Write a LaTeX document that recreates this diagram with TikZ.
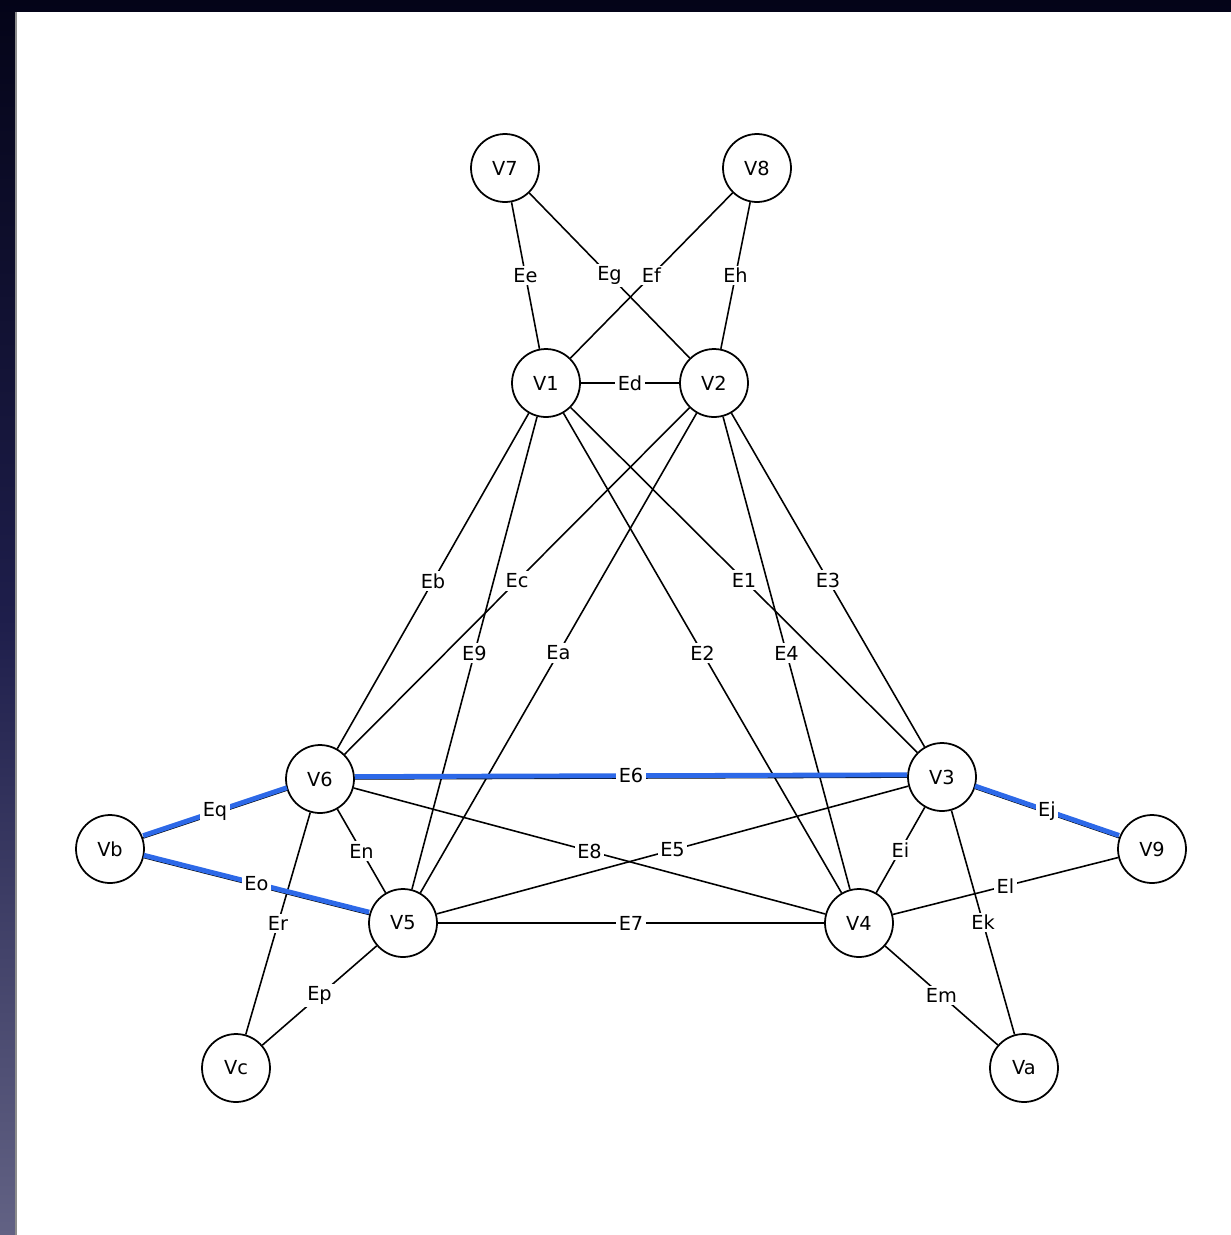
\documentclass[tikz,border=0pt]{standalone}
\usepackage{fontspec}
\setsansfont{DejaVu Sans}
\usetikzlibrary{positioning}
\definecolor{hlblue}{RGB}{45,105,232}
\definecolor{frametop}{RGB}{4,4,24}
\definecolor{framemid}{RGB}{30,30,75}
\definecolor{framebot}{RGB}{98,98,132}

\begin{document}
\begin{tikzpicture}[x=0.02cm,y=-0.02cm,font=\sffamily\fontsize{11}{12}\selectfont]
\tikzset{v/.style={draw,circle,line width=1pt,fill=white,minimum size=1.36cm,inner sep=0pt},
  e/.style={line width=0.9pt},
  hl/.style={hlblue,line width=2.8pt,transform canvas={yshift=1.3pt}},
  lbl/.style={fill=white,text=black,inner sep=1.5pt,midway}}
% dark frame round the white sheet
\useasboundingbox (0,0) rectangle (1231,1235);
\fill[top color=frametop,bottom color=framebot,middle color=framemid] (0,0) rectangle (1231,1235);
\fill[white] (16,12) rectangle (1231,1235);
\draw[black!45,line width=0.6pt] (16,12) -- (16,1235);
% vertices
\node[v] (v7) at (505,168) {V7};
\node[v] (v8) at (757,168) {V8};
\node[v] (v1) at (546,383) {V1};
\node[v] (v2) at (714,383) {V2};
\node[v] (v6) at (320,779) {V6};
\node[v] (v3) at (942,777) {V3};
\node[v] (vb) at (110,849) {Vb};
\node[v] (v9) at (1152,849) {V9};
\node[v] (v5) at (403,923) {V5};
\node[v] (v4) at (859,923) {V4};
\node[v] (vc) at (236,1068) {Vc};
\node[v] (va) at (1024,1068) {Va};
% edges
\draw[e] (v7)--(v1) node[lbl]{Ee};
\draw[e] (v7)--(v2) node[lbl]{Eg};
\draw[e] (v8)--(v1) node[lbl]{Ef};
\draw[e] (v8)--(v2) node[lbl]{Eh};
\draw[e] (v1)--(v2) node[lbl]{Ed};
\draw[e] (v1)--(v6) node[lbl]{Eb};
\draw[e] (v2)--(v6) node[lbl]{Ec};
\draw[e] (v1)--(v5) node[lbl]{E9};
\draw[e] (v2)--(v5) node[lbl]{Ea};
\draw[e] (v1)--(v4) node[lbl]{E2};
\draw[e] (v2)--(v4) node[lbl]{E4};
\draw[e] (v1)--(v3) node[lbl]{E1};
\draw[e] (v2)--(v3) node[lbl]{E3};
\draw[e] (v6)--(v4) node[lbl]{E8};
\draw[e] (v3)--(v5) node[lbl]{E5};
\draw[e] (v6)--(v5) node[lbl]{En};
\draw[e] (v6)--(vc) node[lbl]{Er};
\draw[e] (v5)--(v4) node[lbl]{E7};
\draw[e] (v5)--(vc) node[lbl]{Ep};
\draw[e] (v3)--(v4) node[lbl]{Ei};
\draw[e] (v3)--(va) node[lbl]{Ek};
\draw[e] (v9)--(v4) node[lbl]{El};
\draw[e] (v4)--(va) node[lbl]{Em};
% highlighted path
\draw[e] (v6)--(v3);
\draw[hl] (v6)--(v3) node[lbl]{E6};
\draw[e] (vb)--(v6);
\draw[hl] (vb)--(v6) node[lbl]{Eq};
\draw[e] (vb)--(v5);
\draw[hl] (vb)--(v5) node[lbl]{Eo};
\draw[e] (v3)--(v9);
\draw[hl] (v3)--(v9) node[lbl]{Ej};
\end{tikzpicture}
\end{document}
